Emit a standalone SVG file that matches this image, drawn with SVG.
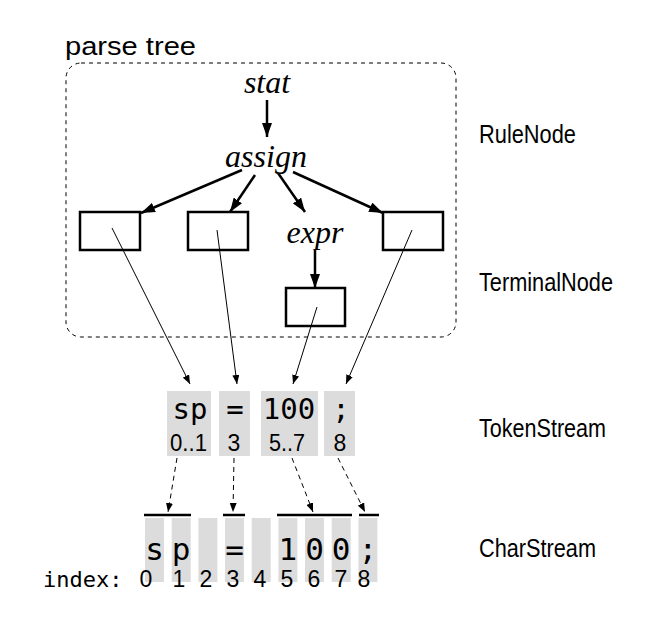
<svg xmlns="http://www.w3.org/2000/svg" width="650" height="634" viewBox="0 0 650 634">
<style>
.lbl{font-family:"Liberation Sans",Arial,sans-serif;font-size:25px;fill:#000}
.rule{font-family:"Liberation Serif","Times New Roman",serif;font-style:italic;font-size:32px;fill:#000;text-anchor:middle}
.term{fill:#fff;stroke:#000;stroke-width:2.5}
.thick{stroke:#000;stroke-width:2.5;fill:none;marker-end:url(#ah)}
.thin{stroke:#000;stroke-width:1;fill:none;marker-end:url(#as)}
.dash{stroke:#000;stroke-width:1;fill:none;stroke-dasharray:5 4;marker-end:url(#as)}
.cell{fill:#dcdcdc}
.mono{font-family:"DejaVu Sans Mono","Liberation Mono",monospace;fill:#000;text-anchor:middle}
.num{font-family:"Liberation Sans",Arial,sans-serif;fill:#000;text-anchor:middle}
.bar{stroke:#000;stroke-width:2.5}
</style>
<defs>
<marker id="ah" markerUnits="userSpaceOnUse" markerWidth="14" markerHeight="10" refX="14" refY="5" orient="auto"><path d="M0,0 L14,5 L0,10 z" fill="#000"/></marker>
<marker id="as" markerUnits="userSpaceOnUse" markerWidth="9" markerHeight="7" refX="9" refY="3.5" orient="auto"><path d="M0,0 L9,3.5 L0,7 z" fill="#000"/></marker>
</defs>

<text x="65" y="55" class="lbl" font-size="26" textLength="131" lengthAdjust="spacingAndGlyphs">parse tree</text>
<rect x="66" y="63" width="390" height="274" rx="15" ry="15" fill="none" stroke="#000" stroke-width="1" stroke-dasharray="4 4"/>

<g id="stat"><text x="267" y="93" class="rule">stat</text></g>
<g id="assign"><text x="266" y="167" class="rule">assign</text></g>
<g id="expr"><text x="315" y="243" class="rule">expr</text></g>
<g id="t_sp"><rect x="80" y="212" width="60" height="38" class="term"/></g>
<g id="t_eq"><rect x="188" y="212" width="60" height="38" class="term"/></g>
<g id="t_100"><rect x="286" y="288" width="59" height="38" class="term"/></g>
<g id="t_semi"><rect x="383" y="212" width="60" height="38" class="term"/></g>

<g id="labels">
<text x="479" y="143" class="lbl" textLength="97" lengthAdjust="spacingAndGlyphs">RuleNode</text>
<text x="479" y="291" class="lbl" textLength="134" lengthAdjust="spacingAndGlyphs">TerminalNode</text>
<text x="479" y="437" class="lbl" textLength="127" lengthAdjust="spacingAndGlyphs">TokenStream</text>
<text x="479" y="557" class="lbl" textLength="117" lengthAdjust="spacingAndGlyphs">CharStream</text>
</g>

<g id="tokens">
<g id="tok_sp"><rect x="167" y="391" width="44" height="65" class="cell"/><text x="190" y="419" class="mono" font-size="29">sp</text><text x="188.5" y="451" class="num" font-size="23" textLength="37" lengthAdjust="spacingAndGlyphs">0..1</text></g>
<g id="tok_eq"><rect x="219" y="391" width="31" height="65" class="cell"/><text x="235" y="419" class="mono" font-size="29">=</text><text x="234" y="451" class="num" font-size="23">3</text></g>
<g id="tok_100"><rect x="261" y="391" width="57" height="65" class="cell"/><text x="289" y="419" class="mono" font-size="29">100</text><text x="287" y="451" class="num" font-size="23" textLength="36" lengthAdjust="spacingAndGlyphs">5..7</text></g>
<g id="tok_semi"><rect x="324" y="391" width="31" height="65" class="cell"/><text x="341" y="419" class="mono" font-size="29">;</text><text x="340" y="451" class="num" font-size="23">8</text></g>
</g>

<g id="chars">
<rect x="145" y="518" width="19" height="64" class="cell"/>
<rect x="171.7" y="518" width="19" height="64" class="cell"/>
<rect x="198.4" y="518" width="19" height="64" class="cell"/>
<rect x="225" y="518" width="19" height="64" class="cell"/>
<rect x="251.7" y="518" width="19" height="64" class="cell"/>
<rect x="278.4" y="518" width="19" height="64" class="cell"/>
<rect x="305" y="518" width="19" height="64" class="cell"/>
<rect x="331.7" y="518" width="19" height="64" class="cell"/>
<rect x="358.4" y="518" width="19" height="64" class="cell"/>
<line x1="144" y1="515" x2="191" y2="515" class="bar"/>
<line x1="223" y1="515" x2="245" y2="515" class="bar"/>
<line x1="277" y1="515" x2="352" y2="515" class="bar"/>
<line x1="359" y1="515" x2="379" y2="515" class="bar"/>
<g class="mono" font-size="31">
<text x="154.5" y="560">s</text>
<text x="181.2" y="560">p</text>
<text x="234.5" y="560">=</text>
<text x="287.9" y="560">1</text>
<text x="314.5" y="560">0</text>
<text x="341.2" y="560">0</text>
<text x="367.9" y="560">;</text>
</g>
<text x="43" y="587" font-family="DejaVu Sans Mono,Liberation Mono,monospace" font-size="22" fill="#000">index:</text>
<g class="num" font-size="23">
<text x="146" y="587">0</text>
<text x="179" y="587">1</text>
<text x="206" y="587">2</text>
<text x="233" y="587">3</text>
<text x="260" y="587">4</text>
<text x="287" y="587">5</text>
<text x="314" y="587">6</text>
<text x="341" y="587">7</text>
<text x="364" y="587">8</text>
</g>
</g>

<g id="connectors">
<line x1="267" y1="100" x2="267" y2="137" class="thick"/>
<line x1="242" y1="170" x2="141" y2="213" class="thick"/>
<line x1="255" y1="175" x2="230" y2="212" class="thick"/>
<line x1="278" y1="173" x2="305" y2="212" class="thick"/>
<line x1="293" y1="172" x2="383" y2="213" class="thick"/>
<line x1="315" y1="250" x2="315" y2="288" class="thick"/>
<line x1="112" y1="228" x2="190" y2="384" class="thin"/>
<line x1="217" y1="230" x2="237" y2="384" class="thin"/>
<line x1="317" y1="307" x2="293" y2="384" class="thin"/>
<line x1="412" y1="230" x2="346" y2="384" class="thin"/>
<line x1="177" y1="458" x2="168" y2="512" class="dash"/>
<line x1="234" y1="458" x2="233" y2="512" class="dash"/>
<line x1="292" y1="458" x2="313" y2="512" class="dash"/>
<line x1="338" y1="458" x2="365" y2="512" class="dash"/>
</g>
</svg>
